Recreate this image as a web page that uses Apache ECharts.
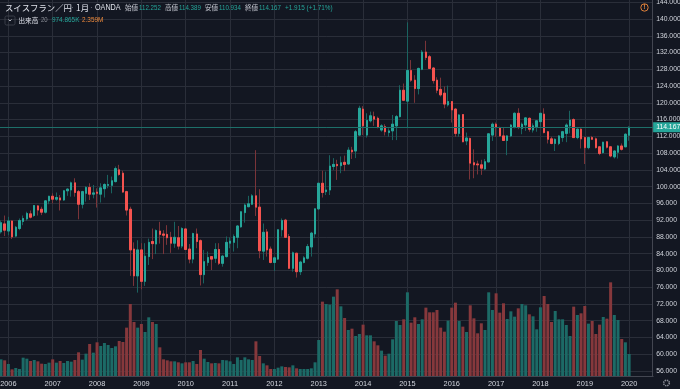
<!DOCTYPE html>
<html>
<head>
<meta charset="utf-8">
<style>
  html, body {margin: 0; padding: 0; background: #131722;}
  #chart {width: 680px; height: 389px;}
</style>
<script src="https://cdn.jsdelivr.net/npm/echarts@6/dist/echarts.min.js"></script>
</head>
<body>
<div id="chart"></div>
<script>
// monthly candles, 2005-11 .. 2020-01
const opens = [
  89.2,91.1,89.4,91.8,88.2,90.0,91.7,92.3,93.5,93.1,
  95.4,94.6,93.9,96.6,97.7,97.0,97.3,96.8,99.0,99.2,
  100.9,98.8,95.8,98.4,99.8,98.2,98.7,98.2,99.5,100.3,
  100.3,101.2,104.0,103.2,98.8,94.6,85.1,78.7,84.9,77.4,
  83.3,86.9,86.3,89.4,88.7,88.6,87.9,86.5,87.8,85.8,
  89.9,85.1,82.7,88.7,87.1,79.0,81.9,83.3,82.9,85.0,
  81.7,83.3,86.5,86.7,87.9,90.4,93.8,95.2,95.8,97.8,
  95.1,84.6,89.2,85.1,81.9,82.7,89.7,92.0,88.1,80.5,
  84.1,79.7,81.9,82.9,85.6,88.7,94.7,100.8,98.8,99.2,
  104.8,105.3,105.0,105.8,105.4,108.7,108.5,112.3,118.5,112.3,
  115.7,116.7,116.3,113.5,114.3,112.9,113.3,114.5,116.7,123.0,
  120.4,127.7,125.4,123.4,128.0,132.1,131.0,128.3,125.4,123.2,
  122.3,119.5,120.3,118.5,112.7,117.2,110.9,111.5,105.7,105.4,
  105.2,104.2,105.9,112.3,114.9,114.1,112.1,111.0,112.1,114.1,
  117.5,113.9,114.7,116.3,113.5,114.3,115.5,117.3,113.1,111.4,
  110.3,110.3,111.7,112.7,114.5,116.0,111.7,113.7,111.7,109.3,
  111.7,111.4,109.5,108.1,110.7,109.5,107.1,108.2,109.7,109.5,
  112.252
]
const closes = [
  91.4,89.6,91.8,88.0,90.3,91.9,92.4,93.6,92.7,95.5,
  94.4,93.9,96.6,97.7,97.0,97.4,96.8,99.0,99.4,100.9,
  98.6,95.8,98.8,99.8,98.2,98.5,98.4,99.7,100.5,100.5,
  101.4,104.3,102.9,98.7,94.4,84.9,78.7,84.9,77.4,83.4,
  86.7,86.4,89.5,88.6,88.4,87.8,86.5,87.9,85.8,90.0,
  85.0,82.7,88.8,86.9,79.0,82.1,83.1,82.7,85.0,81.7,
  83.4,86.7,87.0,88.1,90.6,94.0,95.6,95.9,97.8,95.1,
  84.7,89.1,84.9,81.9,83.0,89.7,91.9,87.9,80.5,84.2,
  79.7,82.0,83.0,85.7,88.9,94.7,100.8,98.6,99.2,104.9,
  105.3,105.0,105.7,105.3,108.7,108.3,113.1,118.7,114.5,115.8,
  116.9,116.1,114.1,114.5,113.1,113.3,114.9,116.7,123.0,120.6,
  127.7,125.4,123.4,128.2,132.1,130.8,128.2,125.3,123.0,121.9,
  119.7,120.3,118.3,112.7,117.1,110.7,111.6,105.6,105.2,105.2,
  104.4,105.95,112.6,114.9,114.1,112.1,111.0,112.1,114.7,117.5,
  114.1,114.9,116.4,113.7,114.5,115.7,117.5,112.9,111.3,110.3,
  111.3,112.1,113.1,114.7,115.9,111.7,113.7,111.4,109.3,111.7,
  111.3,109.3,107.9,110.6,109.4,107.3,108.5,109.7,108.9,112.5,
  114.167
]
const lows = [
  88.8,88.2,88.4,87.5,87.9,89.6,90.8,91.9,92.4,92.8,
  93.1,93.2,93.6,95.8,96.0,96.6,94.3,96.6,97.8,97.6,
  97.6,92.2,94.8,96.4,96.8,97.2,95.0,96.2,97.4,99.6,
  98.4,101.0,102.6,98.5,93.1,78.7,76.3,74.7,75.5,76.3,
  81.3,82.7,83.9,86.4,83.9,86.1,84.2,85.4,85.0,85.3,
  84.9,81.7,81.7,85.3,76.4,76.9,81.1,80.1,81.8,81.3,
  80.9,83.1,85.3,84.5,85.3,90.2,91.4,95.1,95.6,93.0,
  82.9,82.5,83.3,81.7,79.9,82.5,88.1,87.8,80.3,79.7,
  78.3,78.9,81.7,82.6,83.3,87.7,94.4,97.4,98.0,98.0,
  104.0,101.6,103.2,103.7,105.2,106.6,106.8,112.2,112.3,111.7,
  115.3,114.5,113.9,113.1,112.2,111.9,111.1,111.1,116.5,120.4,
  114.1,125.0,120.0,122.0,127.8,130.2,128.1,124.6,122.3,121.5,
  118.7,119.1,115.3,111.9,111.9,110.6,109.9,101.7,102.0,102.9,
  102.8,104.0,105.8,110.9,111.9,111.9,110.9,107.5,111.8,113.9,
  113.7,112.5,113.3,113.1,112.9,113.1,114.3,112.7,110.3,110.1,
  108.5,109.9,110.7,110.6,112.7,111.6,111.3,109.1,105.4,108.9,
  111.1,109.1,107.5,107.9,109.1,107.0,106.7,106.7,108.6,109.4,
  110.934
]
const highs = [
  91.9,93.1,92.8,91.9,90.6,92.4,93.1,94.0,94.3,95.6,
  95.6,95.2,96.8,97.8,98.4,98.6,98.0,99.2,99.6,101.2,
  102.0,99.2,99.0,100.1,100.8,100.4,99.6,100.8,100.8,102.8,
  102.4,104.8,105.2,103.8,99.0,95.2,86.7,87.2,86.5,86.5,
  87.6,90.0,89.8,91.6,89.6,90.8,89.2,91.6,90.6,90.3,
  90.0,86.3,89.0,90.0,87.4,84.9,84.5,83.4,86.5,86.5,
  83.7,88.1,87.9,88.6,90.8,94.1,96.0,97.8,98.2,108.7,
  99.4,91.2,89.9,85.7,83.3,89.8,92.4,92.3,88.7,84.5,
  84.2,82.3,83.4,86.3,89.2,94.8,100.9,103.8,103.6,107.5,
  106.8,106.4,107.2,107.4,109.4,109.5,113.5,119.3,119.2,117.5,
  117.9,117.9,116.7,114.9,114.9,113.9,117.1,117.1,124.2,124.6,
  139.2,130.2,126.6,128.4,132.6,134.8,131.4,128.5,126.1,126.0,
  123.9,124.1,120.4,118.7,117.3,117.3,112.9,111.7,108.9,106.2,
  106.4,106.6,112.7,115.3,115.3,114.3,114.1,112.3,114.9,117.7,
  118.7,115.3,116.5,116.5,115.1,115.9,117.6,118.7,113.3,111.9,
  111.5,112.3,113.3,115.1,118.1,116.3,113.9,113.9,111.9,111.9,
  112.1,111.7,109.7,110.7,110.9,109.7,108.7,109.9,110.3,112.7,
  114.389
]
// 出来高 (K)
const volumes = [
  738,694,532,295,354,310,812,768,665,709,
  650,546,532,591,738,591,665,576,665,635,
  709,1049,724,990,1418,1034,1492,1329,1462,1374,
  1241,1315,1551,1507,2142,3190,2393,2142,2304,1950,
  2600,2393,2304,1270,738,694,650,650,606,561,
  606,606,665,532,1152,768,620,561,576,561,
  709,694,650,532,827,709,827,738,709,1536,
  886,561,473,310,310,369,428,399,384,473,
  340,310,310,310,340,606,1595,3294,3190,3161,
  3515,3840,3087,2570,2038,2097,1772,1861,2275,1802,
  1802,1536,1359,1123,901,990,1625,2437,2260,2511,
  3707,2363,2600,2304,2511,3028,2821,2821,2924,2142,
  1964,2452,3028,3249,2437,2186,1950,3131,2555,1891,
  2334,2038,3707,2924,3663,2806,3220,2526,2865,2629,
  2998,3190,3131,2732,2644,2068,3043,3545,3190,2393,
  2880,2511,2511,2260,1772,3072,2703,2777,3102,2319,
  2437,1861,2275,2614,2540,4150,2703,2481,1639,1492,
  974.865
]
const lastPrice = 114.167

// 2005-11 から 2020-07 まで (右側は空き)
const categories = []
for (let y = 2005, m = 11; categories.length < 177; m++) {
  if (m > 12) { m = 1; y++ }
  categories.push(y + '-' + String(m).padStart(2, '0'))
}
const isJan = (i, v) => v.slice(5) === '01' && i >= 2

const UP = '#26a69a', DOWN = '#f5534f'
const UP_DIM = '#1c6a66', DOWN_DIM = '#86383c'
const UP_WICK = '#1a6360', DOWN_WICK = '#7a3439'
const TXT = '#d1d4dc', GRID = '#2a2e39'
const LATIN = '"Liberation Sans", sans-serif'
const JP = '"Noto Sans CJK JP", sans-serif'

const wicks = opens.map((o, i) => [o, closes[i], lows[i], highs[i]])
const bodies = opens.map((o, i) => [o, closes[i], Math.min(o, closes[i]), Math.max(o, closes[i])])
const volumeData = volumes.map((v, i) => ({
  value: v,
  itemStyle: {color: closes[i] >= opens[i] ? UP_DIM : DOWN_DIM}
}))

const gridBox = {left: -0.87, width: 654, outerBoundsMode: 'none'}

const headerTexts = [
  ['スイスフラン／円', 5, '#e0e3eb', 8.4, JP, 7.5, 1],
  ['1月', 76, '#e0e3eb', 8.4, JP, 7.5, 1],
  ['OANDA', 95, '#e0e3eb', 8.2, LATIN, 7.5, 0.88],
  ['·', 71, '#787b86', 8, LATIN, 7.5, 1],
  ['·', 90, '#787b86', 8, LATIN, 7.5, 1],
  ['始値', 125, '#c0c3cc', 6.6, JP, 7.5, 1],
  ['112.252', 139, UP, 8, LATIN, 7.5, 0.77],
  ['高値', 165, '#c0c3cc', 6.6, JP, 7.5, 1],
  ['114.389', 179, UP, 8, LATIN, 7.5, 0.77],
  ['安値', 205, '#c0c3cc', 6.6, JP, 7.5, 1],
  ['110.934', 219, UP, 8, LATIN, 7.5, 0.77],
  ['終値', 245, '#c0c3cc', 6.6, JP, 7.5, 1],
  ['114.167', 259, UP, 8, LATIN, 7.5, 0.77],
  ['+1.915 (+1.71%)', 285, UP, 8, LATIN, 7.5, 0.8],
  ['出来高', 18.5, '#e0e3eb', 6.6, JP, 20, 1],
  ['20', 41, '#8a8d96', 7.5, LATIN, 20, 0.8],
  ['974.865K', 52, UP, 8, LATIN, 20, 0.8],
  ['2.359M', 82, '#ef8a3c', 8, LATIN, 20, 0.8]
].map(([text, x, color, size, font, y, sx]) => ({
  type: 'text', x: x, y: y, scaleX: sx, silent: true, z: 20,
  style: {text: text, fill: color, fontSize: size, fontFamily: font, verticalAlign: 'middle'}
}))

const chart = echarts.init(document.getElementById('chart'), null, {renderer: 'canvas'})
chart.setOption({
  animation: false,
  backgroundColor: '#131722',
  grid: [
    {...gridBox, top: 2.24, height: 368.76},
    {...gridBox, top: 0, height: 376}
  ],
  xAxis: [
    {
      type: 'category', gridIndex: 0, data: categories, boundaryGap: true,
      axisLine: {show: false}, axisTick: {show: false}, axisLabel: {show: false}, splitLine: {show: false}
    },
    {
      type: 'category', gridIndex: 1, data: categories, boundaryGap: true,
      axisLine: {show: true, lineStyle: {color: '#434651', width: 1}},
      axisTick: {show: false},
      axisLabel: {
        interval: isJan, formatter: v => v.slice(0, 4), color: TXT,
        fontSize: 7.4, fontFamily: LATIN, margin: 4, hideOverlap: false
      },
      splitLine: {show: true, interval: isJan, alignWithLabel: true, lineStyle: {color: GRID, width: 1}}
    }
  ],
  yAxis: [
    {
      type: 'value', gridIndex: 0, position: 'right', min: 56, max: 144, interval: 4, scale: true,
      axisLine: {show: false}, axisTick: {show: false},
      axisLabel: {
        formatter: v => v.toFixed(3), color: TXT, fontSize: 6.8, fontFamily: LATIN,
        margin: 3, showMinLabel: true, showMaxLabel: true, hideOverlap: false
      },
      splitLine: {show: true, lineStyle: {color: GRID, width: 1}}
    },
    {
      type: 'value', gridIndex: 1, position: 'right', offset: -1, min: 0, max: 16657,
      axisLine: {show: true, lineStyle: {color: '#434651', width: 1}},
      axisTick: {show: false}, axisLabel: {show: false}, splitLine: {show: false}
    }
  ],
  series: [
    {
      name: '出来高', type: 'bar', xAxisIndex: 1, yAxisIndex: 1, data: volumeData,
      barWidth: 3, silent: true, z: 2
    },
    {
      name: 'wick', type: 'candlestick', xAxisIndex: 0, yAxisIndex: 0, data: wicks,
      barWidth: 2, silent: true, z: 3,
      itemStyle: {color: UP_WICK, color0: DOWN_WICK, borderColor: UP_WICK, borderColor0: DOWN_WICK, borderWidth: 1},
      markLine: {
        silent: true, symbol: 'none', animation: false,
        lineStyle: {color: '#1d6f69', width: 1, type: 'solid'},
        label: {
          position: 'end', distance: 0, formatter: () => lastPrice.toFixed(3),
          color: '#ffffff', backgroundColor: UP, padding: [1.5, 3, 1.5, 3],
          fontSize: 6.8, fontFamily: LATIN
        },
        data: [{yAxis: lastPrice}]
      }
    },
    {
      name: 'スイスフラン／円', type: 'candlestick', xAxisIndex: 0, yAxisIndex: 0, data: bodies,
      barWidth: 2, silent: true, z: 4,
      itemStyle: {color: UP, color0: DOWN, borderColor: UP, borderColor0: DOWN, borderWidth: 1}
    }
  ],
  graphic: headerTexts.concat([
    {type: 'rect', shape: {x: 5, y: 16, width: 10, height: 9, r: 1.5}, style: {fill: 'none', stroke: '#3a3e49', lineWidth: 1}, z: 20, silent: true},
    {type: 'polyline', shape: {points: [[8.5, 19.5], [10, 21], [11.5, 19.5]]}, style: {fill: 'none', stroke: '#b2b5be', lineWidth: 1}, z: 20, silent: true},
    {type: 'circle', shape: {cx: 644.5, cy: 7.5, r: 3.7}, style: {fill: 'none', stroke: '#e0813a', lineWidth: 1}, z: 20, silent: true},
    {type: 'text', x: 644.5, y: 7.7, z: 20, silent: true, style: {text: '!', fill: '#e0813a', fontSize: 6.5, fontWeight: 'bold', fontFamily: 'Roboto', align: 'center', verticalAlign: 'middle'}},
    {type: 'circle', shape: {cx: 666.5, cy: 383, r: 2.8}, style: {fill: 'none', stroke: '#8a8d96', lineWidth: 1.6, lineDash: [1.4, 0.8]}, z: 20, silent: true}
  ])
})

window.addEventListener('resize', () => chart.resize())
</script>
</body>
</html>
